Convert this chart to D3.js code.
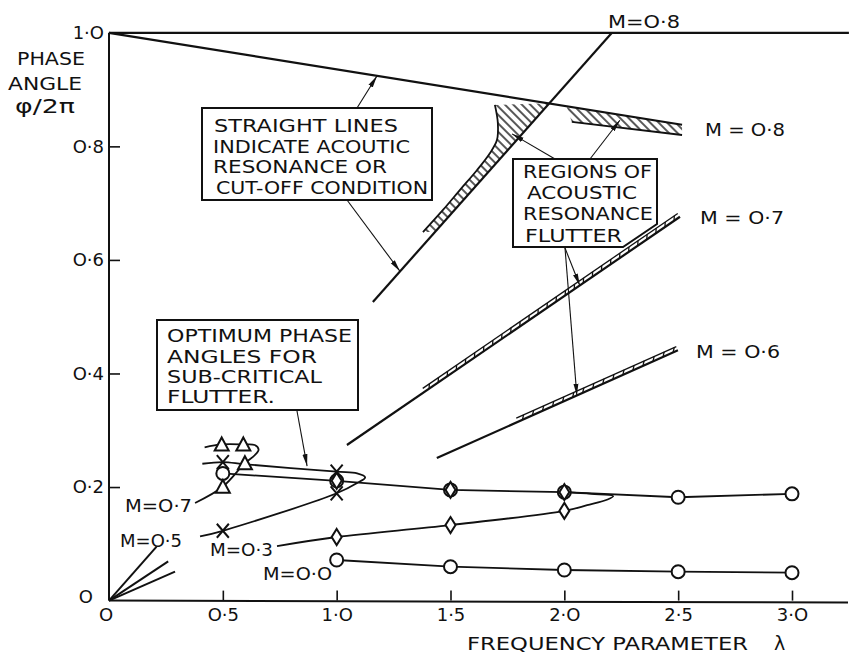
<!DOCTYPE html>
<html><head><meta charset="utf-8">
<script src="https://cdn.jsdelivr.net/npm/d3@7"></script>
<style>body{margin:0;background:#fff}</style>
</head><body>
<svg id="c" width="850" height="669"></svg>
<script>
// ---------- data ----------
const xTickValues = [0.5, 1.0, 1.5, 2.0, 2.5, 3.0];
const xTickLabels = ["O·5", "1·O", "1·5", "2·O", "2·5", "3·O"];
const yTickValues = [0.2, 0.4, 0.6, 0.8];
const yTickLabels = ["O·2", "O·4", "O·6", "O·8"];

// straight lines (acoustic resonance / cut-off)
const topLevelLine = [[0, 1.0], [3.25, 1.0]];
const cutoffLine   = [[0, 1.0], [2.517, 0.838]];
const lineM08      = [[1.159, 0.526], [2.209, 1.0]];
const lineM07      = [[1.045, 0.274], [2.508, 0.676]];
const doubleM07    = [[1.388, 0.368], [2.508, 0.676]];
const lineM06      = [[1.440, 0.251], [2.499, 0.441]];
const doubleM06    = [[1.796, 0.315], [2.499, 0.441]];
const linesM05     = [[[0, 0], [0.209, 0.095]], [[0, 0], [0.26, 0.069]], [[0, 0], [0.29, 0.051]]];

// hatched regions of acoustic resonance flutter
const regionLeftCurve = [[1.379, 0.649], [1.467, 0.688], [1.541, 0.723], [1.616, 0.758], [1.673, 0.788],
                         [1.704, 0.811], [1.708, 0.841], [1.695, 0.873]];
const regionLeftRest  = [[1.932, 0.876], [1.431, 0.649]];
const regionRightLow  = [[2.033, 0.843], [2.517, 0.820]];
const regionRightTop  = [[2.517, 0.838], [2.011, 0.869]];

// optimum phase angle curves
const pathM00   = [[1.0, 0.0715], [1.5, 0.0597], [2.0, 0.0539], [2.5, 0.0509], [3.0, 0.0491]];
const pathUpper = [[0.5, 0.224], [1.0, 0.211], [1.5, 0.195], [2.0, 0.191], [2.5, 0.182], [3.0, 0.188]];
const pathM03   = [[0.738, 0.096], [1.0, 0.112], [1.5, 0.133], [2.0, 0.158], [2.1, 0.168], [2.19, 0.178],
                   [2.215, 0.184], [2.12, 0.188], [2.0, 0.191]];
const pathCross = [[0.40, 0.113], [0.5, 0.123], [1.0, 0.189], [1.09, 0.207], [1.125, 0.217], [1.09, 0.224],
                   [1.0, 0.227], [0.6, 0.240], [0.5, 0.244], [0.41, 0.241]];
const pathTri   = [[0.378, 0.172], [0.5, 0.2005], [0.597, 0.242], [0.64, 0.256], [0.657, 0.266], [0.64, 0.274],
                   [0.59, 0.275], [0.495, 0.275], [0.42, 0.270]];

const circlePts  = [[0.5, 0.224], [1.0, 0.211], [1.5, 0.195], [2.0, 0.191], [2.5, 0.182], [3.0, 0.188],
                    [1.0, 0.0715], [1.5, 0.0597], [2.0, 0.0539], [2.5, 0.0509], [3.0, 0.0491]];
const diamondPts = [[1.0, 0.112], [1.5, 0.133], [2.0, 0.158], [1.5, 0.195], [2.0, 0.191], [1.0, 0.211]];
const crossPts   = [[0.5, 0.123], [1.0, 0.189], [1.0, 0.227], [0.5, 0.244]];
const trianglePts = [[0.5, 0.2005], [0.597, 0.242], [0.59, 0.275], [0.495, 0.275]];

// annotation arrow tips (data coords)
const tipTopLine  = [1.177, 0.924];
const tipM08      = [1.278, 0.580];
const tipRegionL  = [1.77, 0.822];
const tipRegionR  = [2.244, 0.846];
const tipDoubleM07 = [2.068, 0.555];
const tipDoubleM06 = [2.055, 0.361];
const tipOptimum  = [0.87, 0.237];

// ---------- drawing ----------
const W = 850, H = 669;
const svg = d3.select("#c");
const x = d3.scaleLinear().domain([0, 3]).range([109, 792]);
const y = d3.scaleLinear().domain([0, 1]).range([600.6, 32.8]);
const ink = "#111";
const FONT = "DejaVu Sans";

const defs = svg.append("defs");
defs.append("pattern").attr("id", "hatch").attr("patternUnits", "userSpaceOnUse")
  .attr("width", 6).attr("height", 6).attr("patternTransform", "rotate(-45)")
  .append("line").attr("x1", 1).attr("y1", 0).attr("x2", 1).attr("y2", 6)
  .attr("stroke", ink).attr("stroke-width", 1.4);
defs.append("marker").attr("id", "ah").attr("viewBox", "0 0 12 6").attr("refX", 12).attr("refY", 3)
  .attr("markerWidth", 12).attr("markerHeight", 6).attr("markerUnits", "userSpaceOnUse").attr("orient", "auto")
  .append("path").attr("d", "M0,0.5L12,3L0,5.5Z").attr("fill", ink);

const line = d3.line().x(d => x(d[0])).y(d => y(d[1]));
const curve = d3.line().x(d => x(d[0])).y(d => y(d[1])).curve(d3.curveCatmullRom.alpha(0.5));

// axes
const gx = svg.append("g").attr("transform", `translate(0,${y(0)})`)
  .call(d3.axisBottom(x).tickValues(xTickValues).tickFormat((d, i) => xTickLabels[i]).tickSize(-10).tickPadding(8));
gx.select(".domain").remove();
gx.selectAll(".tick line").attr("stroke", ink).attr("stroke-width", 1.6);
gx.selectAll(".tick text").attr("font-family", FONT).attr("font-size", 18).attr("fill", ink);

const gy = svg.append("g").attr("transform", `translate(${x(0)},0)`)
  .call(d3.axisLeft(y).tickValues(yTickValues).tickFormat((d, i) => yTickLabels[i]).tickSize(-11).tickPadding(5));
gy.select(".domain").remove();
gy.selectAll(".tick line").attr("stroke", ink).attr("stroke-width", 1.6);
gy.selectAll(".tick text").attr("font-family", FONT).attr("font-size", 18).attr("fill", ink);

// axis frame lines
svg.append("line").attr("x1", x(0)).attr("y1", y(0)).attr("x2", 848).attr("y2", y(0) + 2)
  .attr("stroke", ink).attr("stroke-width", 2);
svg.append("line").attr("x1", x(0)).attr("y1", y(0)).attr("x2", x(0)).attr("y2", y(1))
  .attr("stroke", ink).attr("stroke-width", 2);

function txt(s, tx, ty, len, size = 18, anchor = "start") {
  const t = svg.append("text").attr("x", tx).attr("y", ty).text(s)
    .attr("font-family", FONT).attr("font-size", size).attr("fill", ink).attr("text-anchor", anchor);
  if (len) t.attr("textLength", len).attr("lengthAdjust", "spacingAndGlyphs");
  return t;
}
// extra tick labels
txt("1·O", 104, y(1) + 6.5, null, 18, "end");
txt("O", 93, y(0) + 2.5, null, 18, "end");
txt("O", x(0) - 3, 621, null, 18, "middle");

// axis titles
txt("PHASE", 17, 65, 68);
txt("ANGLE", 8, 90, 74);
txt("φ/2π", 15, 113, 60, 20);
txt("FREQUENCY PARAMETER", 467, 650, 281);
txt("λ", 774, 650, null, 19);

// hatched regions
svg.append("path").attr("d", line(regionLeftCurve.concat(regionLeftRest)) + "Z").attr("fill", "url(#hatch)");
svg.append("path").attr("d", line(regionRightLow.concat(regionRightTop)) + "Z").attr("fill", "url(#hatch)");
svg.append("path").attr("d", curve(regionLeftCurve)).attr("fill", "none").attr("stroke", ink).attr("stroke-width", 1.8);
svg.append("path").attr("d", line(regionRightLow)).attr("fill", "none").attr("stroke", ink).attr("stroke-width", 1.8);

// straight lines
[topLevelLine, cutoffLine, lineM08, lineM07, lineM06].forEach(p =>
  svg.append("path").attr("d", line(p)).attr("fill", "none").attr("stroke", ink).attr("stroke-width", 2.2));
linesM05.forEach(p =>
  svg.append("path").attr("d", line(p)).attr("fill", "none").attr("stroke", ink).attr("stroke-width", 2));

// double (flutter region) segments along the M=0.7 and M=0.6 lines
function doubleLine(seg) {
  const x0 = x(seg[0][0]), y0 = y(seg[0][1]), x1 = x(seg[1][0]), y1 = y(seg[1][1]);
  const L = Math.hypot(x1 - x0, y1 - y0), ux = (x1 - x0) / L, uy = (y1 - y0) / L;
  const nx = uy, ny = -ux; // normal toward upper-left
  const off = 4;
  svg.append("line").attr("x1", x0 + nx * off).attr("y1", y0 + ny * off)
    .attr("x2", x1 + nx * off).attr("y2", y1 + ny * off).attr("stroke", ink).attr("stroke-width", 1.3);
  for (let s = 5; s < L; s += 11) {
    const px = x0 + ux * s, py = y0 + uy * s;
    svg.append("line").attr("x1", px).attr("y1", py).attr("x2", px + ux * 3 + nx * off).attr("y2", py + uy * 3 + ny * off)
      .attr("stroke", ink).attr("stroke-width", 1.3);
  }
}
doubleLine(doubleM07);
doubleLine(doubleM06);

// curves
[pathM00, pathUpper].forEach(p =>
  svg.append("path").attr("d", line(p)).attr("fill", "none").attr("stroke", ink).attr("stroke-width", 1.8));
[pathM03, pathCross, pathTri].forEach(p =>
  svg.append("path").attr("d", curve(p)).attr("fill", "none").attr("stroke", ink).attr("stroke-width", 1.8));

// markers
const mk = svg.append("g").attr("stroke", ink).attr("stroke-width", 2).attr("fill", "#fff");
mk.selectAll("circle.c").data(circlePts).join("circle").attr("class", "c")
  .attr("cx", d => x(d[0])).attr("cy", d => y(d[1])).attr("r", 6.5);
mk.selectAll("path.d").data(diamondPts).join("path").attr("class", "d")
  .attr("d", d => `M${x(d[0])},${y(d[1]) - 8}L${x(d[0]) + 5},${y(d[1])}L${x(d[0])},${y(d[1]) + 8}L${x(d[0]) - 5},${y(d[1])}Z`);
mk.selectAll("path.t").data(trianglePts).join("path").attr("class", "t")
  .attr("d", d => `M${x(d[0])},${y(d[1]) - 7}L${x(d[0]) + 7},${y(d[1]) + 6}L${x(d[0]) - 7},${y(d[1]) + 6}Z`);
mk.selectAll("path.x").data(crossPts).join("path").attr("class", "x").attr("fill", "none")
  .attr("d", d => `M${x(d[0]) - 6},${y(d[1]) - 7}L${x(d[0]) + 6},${y(d[1]) + 7}M${x(d[0]) + 6},${y(d[1]) - 7}L${x(d[0]) - 6},${y(d[1]) + 7}`);

// Mach labels
txt("M=O·8", 608, 28, 72);
txt("M = O·8", 705, 136, 80);
txt("M = O·7", 700, 224, 84);
txt("M = O·6", 696, 358, 84);
txt("M=O·7", 125, 512, 67);
txt("M=O·5", 120, 547, 62);
txt("M=O·3", 210, 556, 63);
txt("M=O·O", 263, 580, 69);

// annotation boxes
function box(pts) {
  svg.append("path").attr("d", d3.line()(pts) + "Z").attr("fill", "#fff").attr("stroke", ink).attr("stroke-width", 2);
}
function arrow(from, tip) {
  svg.append("line").attr("x1", from[0]).attr("y1", from[1]).attr("x2", x(tip[0])).attr("y2", y(tip[1]))
    .attr("stroke", ink).attr("stroke-width", 1.1).attr("marker-end", "url(#ah)");
}
box([[202, 108], [432, 108], [432, 200], [202, 200]]);
txt("STRAIGHT LINES", 214, 132, 184);
txt("INDICATE ACOUTIC", 213, 153, 197);
txt("RESONANCE OR", 213, 173, 174);
txt("CUT-OFF CONDITION", 216, 194, 212);
arrow([357, 108], tipTopLine);
arrow([347, 200], tipM08);

box([[513, 159], [657, 159], [657, 224], [623, 247], [513, 247]]);
txt("REGIONS OF", 523, 178, 129);
txt("ACOUSTIC", 527, 199, 110);
txt("RESONANCE", 523, 220, 130);
txt("FLUTTER", 525, 242, 97);
arrow([555, 159], tipRegionL);
arrow([590, 159], tipRegionR);
arrow([565, 248], tipDoubleM07);
arrow([565, 248], tipDoubleM06);

box([[157, 320], [358, 320], [358, 410], [157, 410]]);
txt("OPTIMUM PHASE", 167, 342, 185);
txt("ANGLES FOR", 167, 363, 150);
txt("SUB-CRITICAL", 167, 383, 155);
txt("FLUTTER.", 167, 403, 108);
arrow([297, 411], tipOptimum);
</script>
</body></html>
